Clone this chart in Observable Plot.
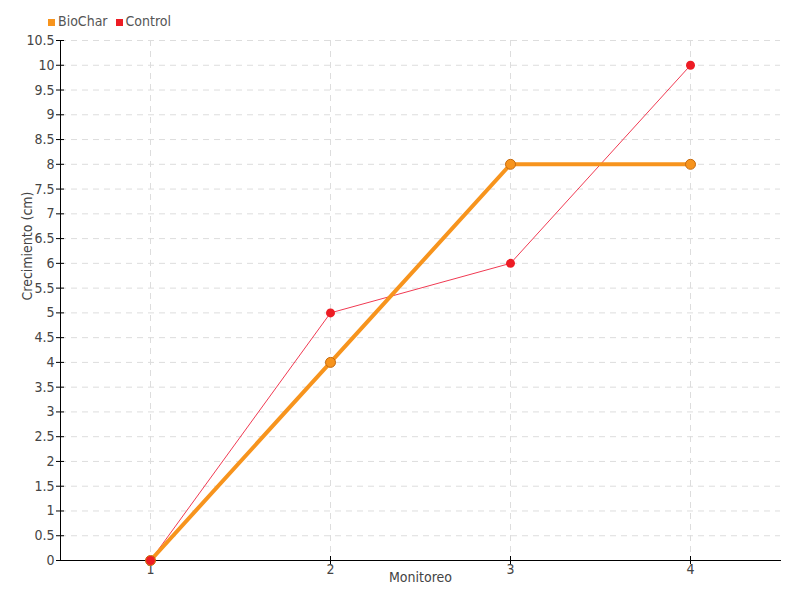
<!DOCTYPE html>
<html><head><meta charset="utf-8">
<script src="https://cdn.jsdelivr.net/npm/d3@7"></script>
<script src="https://cdn.jsdelivr.net/npm/@observablehq/plot@0.6"></script>
<style>
body{margin:0;background:#fff;font-family:"Liberation Sans Narrow","DejaVu Sans Condensed","DejaVu Sans",sans-serif;font-stretch:condensed;}
#wrap{position:relative;width:800px;height:600px;}
#legend{position:absolute;left:48px;top:13px;font-size:14px;color:#555;display:flex;gap:8px;align-items:center;}
#legend span.sw{display:inline-block;width:7px;height:7px;margin-right:3px;vertical-align:middle;}
</style></head><body>
<div id="wrap"><div id="legend"></div></div>
<script>
const monitoreo = ["1","2","3","4"];
const biochar = [0,4,8,8];
const control = [0,5,6,10];
const yTicks = d3.range(0,10.51,0.5);
const seriesNames = ["BioChar","Control"];
const seriesColors = ["#f7941d","#ed1c24"];

const bio = monitoreo.map((m,i)=>({m, v:biochar[i]}));
const ctl = monitoreo.map((m,i)=>({m, v:control[i]}));

const fmt = d => String(+d.toFixed(1));
const plot = Plot.plot({
  width:800, height:600,
  marginLeft:60, marginRight:20, marginTop:40, marginBottom:40,
  style:{fontFamily:'"Liberation Sans Narrow","DejaVu Sans Condensed","DejaVu Sans",sans-serif', fontSize:"14px", color:"#444", background:"#fff"},
  x:{type:"point", domain:monitoreo, padding:0.5, label:null},
  y:{domain:[0,10.5], label:null},
  marks:[
    Plot.gridX(monitoreo,{stroke:"#ddd", strokeOpacity:1, strokeDasharray:"6,5"}),
    Plot.gridY(yTicks,{stroke:"#ddd", strokeOpacity:1, strokeDasharray:"6,5"}),
    Plot.axisY(yTicks,{tickFormat:fmt, tickSize:4, tickPadding:2, stroke:"#000", fill:"#444", fontSize:14, label:null}),
    Plot.axisY(yTicks,{tickFormat:()=>"", tickSize:-4, stroke:"#000", label:null}),
    Plot.axisX(monitoreo,{tickSize:4, tickPadding:0, stroke:"#000", fill:"#444", fontSize:14, label:null}),
    Plot.axisX(monitoreo,{tickFormat:()=>"", tickSize:-4, stroke:"#000", label:null}),
    Plot.frame({anchor:"left", stroke:"#000"}),
    Plot.frame({anchor:"bottom", stroke:"#000"}),
    Plot.line(ctl,{x:"m", y:"v", stroke:"#f03a52", strokeWidth:1}),
    Plot.line(bio,{x:"m", y:"v", stroke:seriesColors[0], strokeWidth:4}),
    Plot.dot(bio,{x:"m", y:"v", r:5, fill:seriesColors[0], stroke:"#c56a0f", strokeWidth:1}),
    Plot.dot(ctl,{x:"m", y:"v", r:4.5, fill:seriesColors[1], stroke:"none"}),
    Plot.text(["Monitoreo"],{frameAnchor:"bottom", dy:21, fill:"#444", fontSize:14}),
    Plot.text(["Crecimiento (cm)"],{frameAnchor:"left", rotate:-90, dx:-33, fill:"#444", fontSize:14})
  ]
});
document.getElementById("wrap").appendChild(plot);
const lg = document.getElementById("legend");
seriesNames.forEach((n,i)=>{
  const s=document.createElement("span");
  s.innerHTML=`<span class="sw" style="background:${seriesColors[i]}"></span>${n}`;
  lg.appendChild(s);
});
</script>
</body></html>
